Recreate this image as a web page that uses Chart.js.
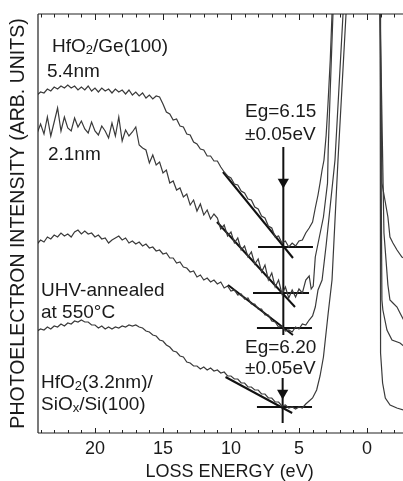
<!DOCTYPE html>
<html><head><meta charset="utf-8">
<script src="https://cdn.jsdelivr.net/npm/chart.js@4"></script>
<style>html,body{margin:0;padding:0;background:#fff;}canvas{display:block;}</style>
</head><body>
<canvas id="c" width="403" height="481"></canvas>
<script>
const energyGrid = [24.25,24,23.75,23.5,23.25,23,22.75,22.5,22.25,22,
21.75,21.5,21.25,21,20.75,20.5,20.25,20,19.75,19.5,
19.25,19,18.75,18.5,18.25,18,17.75,17.5,17.25,17,
16.75,16.5,16.25,16,15.75,15.5,15.25,15,14.75,14.5,
14.25,14,13.75,13.5,13.25,13,12.75,12.5,12.25,12,
11.75,11.5,11.25,11,10.75,10.5,10.25,10,9.75,9.5,
9.25,9,8.75,8.5,8.25,8,7.75,7.5,7.25,7,
6.75,6.5,6.25,6,5.75,5.5,5.25,5,4.75,4.5,
4.25];
const ge54nm = [338,341,340,344,342,346,344,347,345,348,
345,347,343,346,343,347,342,345,341,345,
342,344,340,344,341,343,339,343,338,341,
337,340,335,338,334,337,336,329,321,319,
313,314,307,306,299,298,291,289,284,283,
277,277,272,272,266,261,257,255,249,248,
242,240,234,233,226,224,217,215,207,205,
196,197,190,192,186,190,187,192,193,200,
205];
const ge54nmEdgeE = [4.0,3.8,3.6,3.45,3.3,3.16,3.0,2.87,2.7,2.57,2.4,-0.95,-0.97,-1.10,-1.54,-1.69,-1.91,-2.21,-2.57,-2.7];
const ge54nmEdgeI = [211,225,238,250,263,273,298,328,373,419,633,2400,419,250,216,196,190,183,176,175];
const ge21nm = [300,309,299,316,297,311,325,302,316,305,
302,315,306,312,304,300,311,302,298,307,
302,295,310,297,316,292,303,297,301,306,
288,285,283,270,278,268,271,260,263,250,
252,243,245,236,239,228,233,222,229,218,
223,214,219,215,204,208,197,201,190,195,
183,187,176,181,169,174,161,168,153,160,
146,153,139,146,135,143,136,144,140,153,
157];
const ge21nmEdgeE = [4.1,3.95,3.8,3.5,3.2,2.9,2.85,2.7,2.5,2.3,-0.95,-0.97,-1.25,-1.54,-1.69,-1.91,-2.21,-2.43,-2.7];
const ge21nmEdgeI = [144,147,176,196,216,250,283,343,419,633,2400,419,200,148,133,130,126,120,113];
const geAnnealed = [189,193,191,196,194,198,196,200,197,199,
196,201,203,199,202,199,200,196,198,194,
195,190,193,195,197,193,195,190,192,189,
191,187,189,185,186,182,183,179,180,175,
175,170,171,166,165,161,162,156,158,153,
155,151,153,149,151,145,147,142,143,138,
139,134,135,129,129,124,124,118,118,112,
111,106,107,102,103,101,106,104,109,108,
113];
const geAnnealedEdgeE = [4.0,3.8,3.6,3.3,3.0,2.35,1.76,1.5,-0.95,-0.97,-1.1,-1.17,-1.47,-1.84,-2.43,-2.7];
const geAnnealedEdgeI = [117,126,143,153,188,273,419,633,2400,419,133,123,103,93,90,87];
const siRef = [102,104,103,106,104,107,106,109,107,110,
109,112,111,113,111,111,108,108,105,107,
104,106,104,106,105,107,106,108,107,108,
106,105,102,101,98,97,93,92,88,86,
82,81,77,76,71,70,67,67,64,66,
63,65,62,63,60,61,57,57,54,54,
50,50,46,46,43,43,39,39,35,35,
31,31,27,28,25,26,24,26,25,29,
32];
const siRefEdgeE = [4.0,3.7,3.45,3.2,2.85,2.57,2.13,1.54,1.3,-0.95,-0.97,-1.0,-1.15,-1.35,-1.7,-2.2,-2.7];
const siRefEdgeI = [35,43,57,76,120,153,273,419,633,2400,419,80,50,35,28,25,23];

const tangentE = [[10.59,5.44],[11.03,5.29],[10.22,5.44],[10.4,5.5]];
const tangentI = [[261,175],[211,126],[148,98],[56,20]];
const baselineE = [[8.01,3.97],[8.38,4.26],[8.09,4.04],[8.09,4.04]];
const baselineI = [186,140,105,26];
const gapEnergy = [6.15, 6.20];
const gapLineTop = [286, 55];
const gapLineBottom = [98, 10];
const gapArrowI = [251, 40];
const xTickLabels = ['20','15','10','5','0'];

function spectrum(vals, edgeE, edgeI) {
  const pts = energyGrid.map((e, k) => ({x: e, y: vals[k]}));
  edgeE.forEach((e, k) => pts.push({x: e, y: edgeI[k]}));
  return pts;
}
const specStyle = {showLine: true, pointRadius: 0, borderColor: '#3a3a3a', borderWidth: 1.2, tension: 0, fill: false};
const annStyle = {showLine: true, pointRadius: 0, borderColor: '#111', borderWidth: 2, tension: 0, fill: false};
const datasets = [
  Object.assign({data: spectrum(ge54nm, ge54nmEdgeE, ge54nmEdgeI)}, specStyle),
  Object.assign({data: spectrum(ge21nm, ge21nmEdgeE, ge21nmEdgeI)}, specStyle),
  Object.assign({data: spectrum(geAnnealed, geAnnealedEdgeE, geAnnealedEdgeI)}, specStyle),
  Object.assign({data: spectrum(siRef, siRefEdgeE, siRefEdgeI)}, specStyle)
];
tangentE.forEach((pair, k) => {
  datasets.push(Object.assign({data: [{x: pair[0], y: tangentI[k][0]}, {x: pair[1], y: tangentI[k][1]}]}, annStyle));
  datasets.push(Object.assign({data: [{x: baselineE[k][0], y: baselineI[k]}, {x: baselineE[k][1], y: baselineI[k]}]}, annStyle));
});
gapEnergy.forEach((e, k) => {
  datasets.push(Object.assign({data: [{x: e, y: gapLineTop[k]}, {x: e, y: gapLineBottom[k]}]}, annStyle));
  datasets.push({data: [{x: e, y: gapArrowI[k]}], showLine: false, pointStyle: 'triangle', rotation: 180,
    pointRadius: 6.5, backgroundColor: '#111', borderColor: '#111', borderWidth: 0});
});

const FONT = '"Liberation Sans", Arial, Helvetica, sans-serif';
const textLabels = [
  {e: 23.16, i: 386, parts: [['HfO'], ['2', 1], ['/Ge(100)']]},
  {e: 23.53, i: 361, parts: [['5.4nm']]},
  {e: 23.46, i: 278, parts: [['2.1nm']]},
  {e: 8.97, i: 321, parts: [['Eg=6.15']]},
  {e: 8.97, i: 298, parts: [['±0.05eV']]},
  {e: 23.97, i: 142, parts: [['UHV-annealed']]},
  {e: 23.97, i: 120, parts: [['at 550°C']]},
  {e: 8.97, i: 85, parts: [['Eg=6.20']]},
  {e: 8.97, i: 64, parts: [['±0.05eV']]},
  {e: 23.97, i: 50, parts: [['HfO'], ['2', 1], ['(3.2nm)/']]},
  {e: 23.97, i: 28, parts: [['SiO'], ['x', 1], ['/Si(100)']]}
];
const xTitle = 'LOSS ENERGY (eV)';

const decor = {
  id: 'decor',
  afterDraw(chart) {
    const ctx = chart.ctx, a = chart.chartArea, xs = chart.scales.x, ys = chart.scales.y;
    ctx.save();
    ctx.strokeStyle = '#222';
    ctx.lineWidth = 1.2;
    ctx.beginPath();
    ctx.moveTo(a.left, a.top); ctx.lineTo(a.right + 2, a.top);
    ctx.moveTo(a.left, a.top); ctx.lineTo(a.left, a.bottom);
    ctx.moveTo(a.left, a.bottom); ctx.lineTo(a.right + 2, a.bottom);
    ctx.stroke();
    ctx.lineWidth = 1;
    ctx.beginPath();
    for (let e = -2; e <= 24; e++) {
      const px = Math.round(xs.getPixelForValue(e)) + 0.5;
      const major = e % 5 === 0;
      ctx.moveTo(px, a.bottom); ctx.lineTo(px, a.bottom - (major ? 5 : 3));
      ctx.moveTo(px, a.top); ctx.lineTo(px, a.top + (major ? 6 : 3.5));
    }
    ctx.stroke();
    ctx.fillStyle = '#1a1a1a';
    ctx.textBaseline = 'middle';
    ctx.textAlign = 'left';
    textLabels.forEach(l => {
      let x = xs.getPixelForValue(l.e);
      const y = ys.getPixelForValue(l.i);
      l.parts.forEach(p => {
        ctx.font = (p[1] ? '13px ' : '19px ') + FONT;
        ctx.fillText(p[0], x, p[1] ? y + 3.5 : y);
        x += ctx.measureText(p[0]).width;
      });
    });
    ctx.font = '18px ' + FONT;
    ctx.textAlign = 'center';
    ctx.fillText(xTitle, xs.getPixelForValue(10.1), a.bottom + 39);
    ctx.restore();
  }
};

new Chart(document.getElementById('c'), {
  type: 'scatter',
  data: {datasets},
  options: {
    responsive: false,
    animation: false,
    devicePixelRatio: 1,
    layout: {autoPadding: false, padding: {top: 14, right: 0, left: 0, bottom: 0}},
    plugins: {legend: {display: false}, tooltip: {enabled: false}},
    scales: {
      x: {
        type: 'linear', reverse: true, min: -2.65, max: 24.19,
        grid: {display: false, drawTicks: false},
        border: {display: false},
        ticks: {
          stepSize: 5, includeBounds: false, autoSkip: false, maxRotation: 0, padding: 5,
          color: '#1a1a1a', font: {family: FONT, size: 18, lineHeight: 1.2},
          callback: (v) => { const s = String(v); return xTickLabels.includes(s) ? s : ''; }
        },
        title: {display: false},
        afterFit: (s) => { s.height = 48; s.paddingLeft = 0; s.paddingRight = 0; }
      },
      y: {
        type: 'linear', min: 0, max: 419,
        grid: {display: false, drawTicks: false},
        border: {display: false},
        ticks: {display: false},
        title: {display: true, text: 'PHOTOELECTRON INTENSITY (ARB. UNITS)', color: '#1a1a1a',
          font: {family: FONT, size: 19.5, lineHeight: 1.2}, padding: {top: 7.3, bottom: 0}},
        afterFit: (s) => { s.width = 38; s.paddingTop = 0; s.paddingBottom = 0; }
      }
    }
  },
  plugins: [decor]
});
</script>
</body></html>
